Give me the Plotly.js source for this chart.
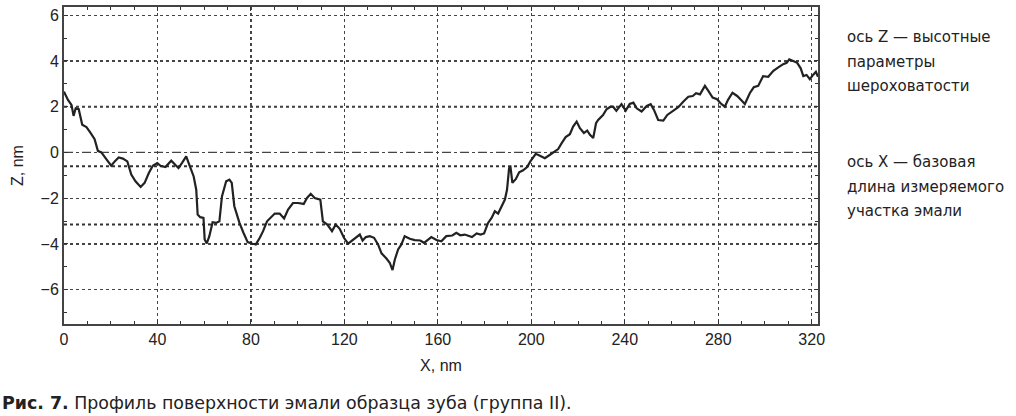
<!DOCTYPE html>
<html><head><meta charset="utf-8">
<script src="https://cdn.plot.ly/plotly-3.0.1.min.js"></script>
<style>html,body{margin:0;padding:0;background:#fff}#chart{width:1016px;height:416px}</style>
</head><body><div id="chart"></div>
<script>
// Profile: X position (nm)
const xNm = [0, 1.7, 3.2, 4.1, 5.0, 6.3, 7.8, 9.6, 11.3, 13.1, 14.5, 16.0, 18.1, 20.2, 21.7, 23.4, 25.2, 27.1, 28.8, 30.6, 32.8, 34.5, 36.3, 38.0, 39.9, 41.3, 43.4, 45.9, 47.6, 49.0, 50.6, 52.3, 54.0, 55.5, 56.6, 57.2, 58.3, 59.7, 60.2, 61.1, 62.2, 63.6, 65.1, 66.5, 67.6, 69.4, 70.8, 71.8, 72.9, 75.1, 76.8, 78.6, 80.7,
  82.1, 83.8, 85.2, 86.9, 88.4, 90.2, 92.3, 94.2, 95.9, 98.0, 100.2, 102.6, 104.0, 105.6, 107.3, 109.7, 110.8, 112.7, 114.7, 116.3, 118.0, 119.8, 121.6, 123.5, 125.5, 126.6, 127.8, 129.2, 130.9, 132.7, 134.4, 135.9, 138.0, 139.4, 140.6, 141.6, 143.0, 144.4, 145.8, 148.0, 150.1, 152.5, 154.1, 155.8, 157.2, 159.4, 161.5,
  163.6, 166.2, 167.9, 169.6, 171.5, 173.2, 174.6, 176.6, 178.3, 179.8, 181.5, 183.0, 184.4, 185.8, 187.2, 188.7, 189.6, 190.5, 191.1, 191.9, 193.4, 194.8, 196.5, 198.2, 199.6, 201.9, 203.7, 205.8, 208.0, 210.1, 211.5, 213.0, 214.7, 216.5, 217.9, 219.4, 220.8, 222.5, 223.9, 225.1, 226.5, 227.7, 228.6, 230.7, 232.2, 233.9, 235.0, 236.4, 238.6, 240.4, 242.1,
  243.7, 245.1, 247.2, 249.4, 251.1, 252.5, 254.3, 256.5, 258.2, 260.5, 262.9, 265.0, 267.2, 269.1, 270.5, 272.2, 274.3, 275.7, 277.6, 279.5, 281.0, 282.8, 284.2, 286.1, 288.1, 290.0, 291.4, 293.5, 295.2, 297.1, 299.2, 301.4, 303.6, 305.7, 307.8, 309.3, 310.4, 312.1, 313.8, 315.3, 316.4, 317.8, 319.2, 320.6, 321.8, 322.7];
// Profile: Z height (nm)
const zNm = [2.66, 2.30, 2.08, 1.60, 1.93, 1.89, 1.21, 1.11, 0.87, 0.58, 0.07, 0.0, -0.29, -0.58, -0.39, -0.22, -0.27, -0.39, -0.97, -1.26, -1.51, -1.33, -0.90, -0.58, -0.46, -0.58, -0.64, -0.36, -0.54, -0.68, -0.44, -0.17, -0.64, -1.05, -1.63, -2.71, -2.83, -2.86, -3.80, -3.98, -3.66, -3.05, -3.08, -3.01, -1.92, -1.26, -1.19, -1.33, -2.35, -3.08, -3.51, -3.92, -3.99,
  -4.02, -3.73, -3.44, -3.01, -2.86, -2.67, -2.67, -2.89, -2.50, -2.21, -2.21, -2.25, -1.99, -1.81, -1.99, -2.06, -3.01, -3.15, -3.44, -3.15, -3.34, -3.73, -3.99, -3.83, -3.66, -3.59, -3.85, -3.70, -3.66, -3.73, -4.02, -4.41, -4.64, -4.82, -5.14, -4.68, -4.24, -4.02, -3.66, -3.77, -3.83, -3.85, -3.95, -3.80, -3.70, -3.83, -3.88,
  -3.66, -3.63, -3.51, -3.62, -3.59, -3.66, -3.70, -3.54, -3.59, -3.54, -3.08, -2.86, -2.57, -2.67, -2.35, -2.06, -1.63, -0.68, -0.64, -1.33, -1.16, -0.87, -0.78, -0.64, -0.39, -0.06, -0.14, -0.25, -0.10, 0.04, 0.15, 0.41, 0.67, 0.80, 1.13, 1.35, 1.06, 0.85, 0.96, 0.77, 0.63, 1.28, 1.42, 1.64, 1.89, 2.00, 2.00, 1.82, 2.11, 1.83, 2.12,
  2.18, 1.93, 1.79, 2.03, 2.11, 1.86, 1.42, 1.39, 1.64, 1.79, 1.98, 2.22, 2.44, 2.47, 2.59, 2.54, 2.91, 2.70, 2.40, 2.33, 2.15, 2.00, 2.30, 2.61, 2.47, 2.27, 2.12, 2.59, 2.85, 2.91, 3.34, 3.31, 3.57, 3.72, 3.86, 3.92, 4.07, 4.00, 3.92, 3.68, 3.34, 3.39, 3.20, 3.39, 3.53, 3.31];

const xTicks = [0, 40, 80, 120, 160, 200, 240, 280, 320];
const yTicks = [-6, -4, -2, 0, 2, 4, 6];
const refLevels = [2.0, -0.6, -3.15];
const zeroLevel = 0;
const xTitle = 'X, nm';
const yTitle = 'Z, nm';
const sideNotes = ['ось Z — высотные', 'параметры', 'шероховатости', 'ось X — базовая', 'длина измеряемого', 'участка эмали'];
const captionBold = 'Рис. 7.';
const captionText = ' Профиль поверхности эмали образца зуба (группа II).';

const FONT = 'Liberation Sans, Arial, Helvetica, sans-serif';
const WIDE = 'DejaVu Sans, Verdana, sans-serif';
const plotTop = 7, plotBottom = 324, plotLeft = 64, plotRight = 818;
const pw = plotRight - plotLeft, ph = plotBottom - plotTop;
const notePx = [37, 62, 86, 162, 187, 211];

const shapes = refLevels.map(v => ({type: 'line', xref: 'paper', x0: 0, x1: 1, yref: 'y', y0: v, y1: v,
  line: {color: '#333', width: 2, dash: 'dot'}, layer: 'below'}));
shapes.push({type: 'line', xref: 'paper', x0: 0, x1: 1, yref: 'y', y0: zeroLevel, y1: zeroLevel,
  line: {color: '#444', width: 1.3, dash: 'dash'}, layer: 'below'});

const annotations = sideNotes.map((t, i) => ({
  text: t, xref: 'paper', yref: 'paper', x: (845 - plotLeft) / pw, y: (plotBottom - notePx[i]) / ph,
  xanchor: 'left', yanchor: 'middle', showarrow: false, font: {family: WIDE, size: 15, color: '#222'}
}));
annotations.push({
  text: '<b>' + captionBold + '</b>' + captionText, xref: 'paper', yref: 'paper',
  x: (0 - plotLeft) / pw, y: (plotBottom - 403) / ph, xanchor: 'left', yanchor: 'middle', showarrow: false,
  font: {family: WIDE, size: 17.4, color: '#222'}
});

const trace = {x: xNm, y: zNm, type: 'scatter', mode: 'lines', line: {color: '#222', width: 2.2}, hoverinfo: 'skip'};

const axisCommon = {
  showline: true, linecolor: '#444', linewidth: 2, mirror: 'allticks', ticks: 'inside', ticklen: 4, tickcolor: '#333',
  showgrid: true, gridcolor: '#444', gridwidth: 1.2, griddash: 'dot', zeroline: false,
  tickfont: {family: FONT, size: 16, color: '#222'}
};

const layout = {
  width: 1016, height: 416, paper_bgcolor: '#fff', plot_bgcolor: '#fff', showlegend: false,
  margin: {l: plotLeft, r: 1016 - plotRight, t: plotTop, b: 416 - plotBottom},
  xaxis: Object.assign({}, axisCommon, {range: [0, 322.7], tickvals: xTicks,
    minor: {dtick: 10, tick0: 0, ticks: 'inside', ticklen: 3, tickcolor: '#333', showgrid: false},
    title: {text: xTitle, font: {family: FONT, size: 16, color: '#222'}, standoff: 13}}),
  yaxis: Object.assign({}, axisCommon, {range: [-7.5, 6.36], tickvals: yTicks,
    minor: {dtick: 1, tick0: 0, ticks: 'inside', ticklen: 3, tickcolor: '#333', showgrid: false},
    title: {text: yTitle, font: {family: FONT, size: 16, color: '#222'}, standoff: 13}}),
  shapes: shapes, annotations: annotations
};

Plotly.newPlot('chart', [trace], layout, {displayModeBar: false, staticPlot: true});
</script></body></html>
